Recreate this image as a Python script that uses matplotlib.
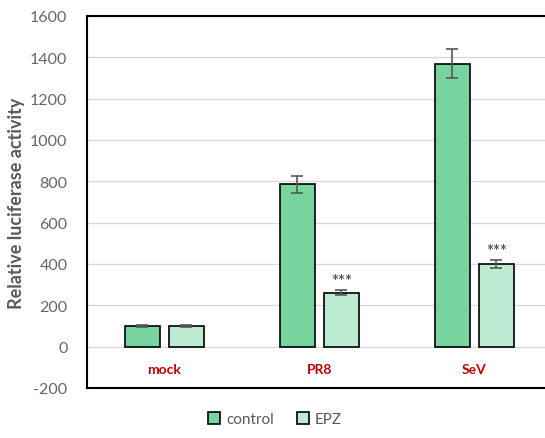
import matplotlib
matplotlib.use("Agg")
import matplotlib.pyplot as plt
import numpy as np
from matplotlib.patches import Patch

categories = ["mock", "PR8", "SeV"]
control = [100, 785, 1370]
control_err = [5, 40, 68]
epz = [100, 260, 400]
epz_err = [5, 12, 20]
sig = ["", "***", "***"]
series_names = ["control", "EPZ"]

plt.rcParams['font.family'] = ['Lato', 'DejaVu Sans']
plt.rcParams['axes.unicode_minus'] = False

fig = plt.figure(figsize=(5.45, 4.39), dpi=100)
ax = fig.add_axes([0.1596, 0.1139, 0.853, 0.8474])

x = np.arange(len(categories))
w = 0.225
off = 0.142
c1 = "#77D49F"
c2 = "#BDEBD1"
ax.bar(x - off, control, w, color=c1, edgecolor="black", linewidth=1.2, zorder=3,
       yerr=control_err, error_kw=dict(ecolor="#595959", elinewidth=1.2, capsize=4, capthick=1.2))
ax.bar(x + off, epz, w, color=c2, edgecolor="black", linewidth=1.2, zorder=3,
       yerr=epz_err, error_kw=dict(ecolor="#595959", elinewidth=1.2, capsize=4, capthick=1.2))

for i, s in enumerate(sig):
    if s:
        ax.text(x[i] + off, epz[i] + epz_err[i] + 45, s, ha="center", va="center",
                fontsize=12, color="#595959", fontweight="bold")

for i, c in enumerate(categories):
    ax.text(x[i], -108, c, ha="center", va="center", fontsize=10,
            fontweight="bold", color="#C00000")

ax.set_xlim(-0.5, 2.5)
ax.set_ylim(-200, 1600)
ax.set_yticks(np.arange(-200, 1601, 200))
ax.set_xticks([])
ax.yaxis.grid(True, color="#D9D9D9", linewidth=1.0, zorder=0)
ax.set_axisbelow(True)
ax.tick_params(axis="y", length=0, pad=14, labelsize=11.5, labelcolor="#666666")
for s in ax.spines.values():
    s.set_linewidth(1.5)
    s.set_color("black")
ax.set_ylabel("Relative luciferase activity", fontsize=13, fontweight="bold",
              color="#595959", labelpad=4)

handles = [Patch(facecolor=c1, edgecolor="black", linewidth=1.2),
           Patch(facecolor=c2, edgecolor="black", linewidth=1.2)]
fig.legend(handles, series_names, loc="center", bbox_to_anchor=(275/545, 1 - 420/439),
           ncol=2, frameon=False, fontsize=11, labelcolor="#595959",
           handlelength=0.8, handleheight=0.8, handletextpad=0.4, columnspacing=1.5)

fig.savefig("out.png", dpi=100)
